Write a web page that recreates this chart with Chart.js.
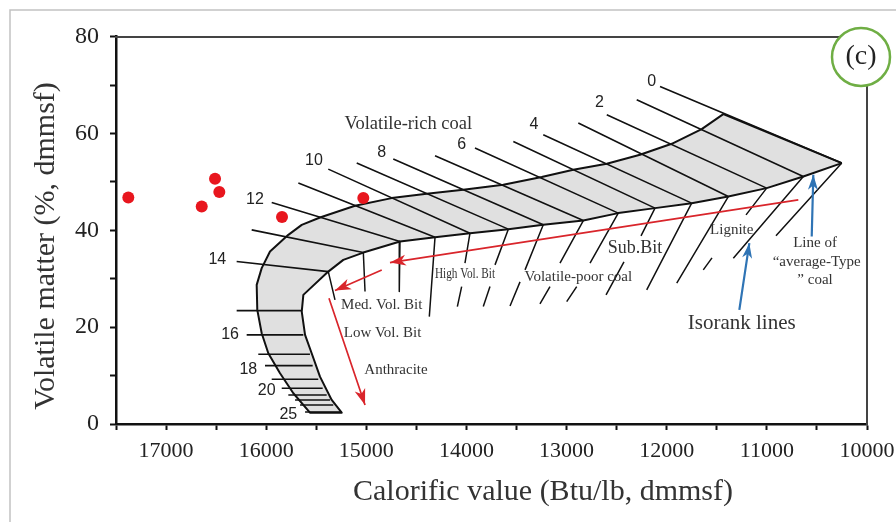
<!DOCTYPE html>
<html>
<head>
<meta charset="utf-8">
<script src="https://cdn.jsdelivr.net/npm/chart.js@4.4.1/dist/chart.umd.min.js"></script>
<style>
  html, body { margin: 0; padding: 0; background: #fff; }
  #wrap { width: 896px; height: 522px; position: relative; }
</style>
</head>
<body>
<div id="wrap"><canvas id="seyler"></canvas></div>
<script>
const SERIF = '"Liberation Serif", "Times New Roman", serif';
const SANS = '"Liberation Sans", Arial, sans-serif';

// calorific value (Btu/lb) , volatile matter (%)
const xTicks = [10000, 11000, 12000, 13000, 14000, 15000, 16000, 17000];
const yTicks = [0, 20, 40, 60, 80];

// upper edge of the coal band, from the lignite tip round to the anthracite end
const outerEdge = [
  [10252, 53.89], [11435, 64.02], [11651, 60.92], [11950, 57.88], [12267, 55.61],
  [12599, 53.75], [12933, 52.51], [13249, 51.0], [13632, 49.41], [14032, 48.37],
  [14397, 47.55], [14747, 46.66], [15113, 45.07], [15463, 42.65], [15645, 41.14],
  [15779, 39.07], [15962, 35.62], [16045, 32.19], [16095, 28.73], [16089, 23.57],
  [16045, 18.75], [15979, 14.62], [15862, 10.48], [15729, 6.35], [15563, 2.34]
];

// lower edge of the band, same direction
const innerEdge = [
  [10252, 53.89], [10636, 51.12], [11002, 48.72], [11385, 46.99], [11751, 45.62],
  [12117, 44.59], [12484, 43.56], [12833, 42.03], [13233, 41.14], [13582, 40.25],
  [13965, 39.42], [14314, 38.59], [14664, 37.69], [15030, 35.41], [15230, 33.90],
  [15380, 31.48], [15629, 26.67], [15645, 23.21], [15612, 18.40], [15546, 14.62],
  [15463, 9.78], [15346, 4.96], [15246, 2.34]
];

// isorank lines across the band: x1, y1, x2, y2
const isorankLines = [
  [12067, 69.73, 10252, 53.89], [12300, 66.98, 10636, 51.12],
  [12599, 63.88, 11002, 48.72], [12883, 62.16, 11385, 46.99],
  [13233, 59.74, 11751, 45.62], [13532, 58.36, 12117, 44.59],
  [13915, 56.99, 12484, 43.56], [14314, 55.40, 12833, 42.03],
  [14731, 54.72, 13233, 41.14], [15096, 53.89, 13582, 40.25],
  [15380, 52.65, 13965, 39.42], [15679, 49.76, 14314, 38.59],
  [15945, 45.75, 14664, 37.69], [16145, 40.10, 15030, 35.41],
  [16295, 33.55, 15380, 31.48]
];

// short isorank bars in the low volatile limb: x1, x2, y
const limbLines = [
  [16295, 15645, 23.42], [16195, 15629, 18.40], [16079, 15563, 14.41],
  [16012, 15536, 12.05], [15945, 15480, 9.24], [15845, 15436, 7.38],
  [15779, 15396, 6.0], [15712, 15363, 4.96], [15662, 15330, 3.93],
  [15612, 15246, 2.48]
];

// volatile-poor continuation lines below the band
const poorLines = [
  [15380, 31.48, 15313, 25.63], [15030, 35.41, 15013, 27.35],
  [14664, 37.69, 14671, 27.35], [14314, 38.59, 14371, 22.18],
  [13965, 39.42, 14015, 33.22], [14048, 28.38, 14091, 24.25],
  [13582, 40.25, 13715, 32.87], [13765, 28.38, 13832, 24.25],
  [13233, 41.14, 13415, 31.83], [13465, 29.35, 13565, 24.39],
  [12833, 42.03, 13066, 33.22], [13166, 28.38, 13266, 24.81],
  [12484, 43.56, 12766, 33.22], [12899, 28.38, 12999, 25.28],
  [12117, 44.59, 12257, 38.86], [12427, 33.49, 12606, 26.67],
  [11751, 45.62, 12200, 27.70], [11385, 46.99, 11900, 29.09],
  [11002, 48.72, 11208, 43.20], [11548, 34.32, 11635, 31.83],
  [10636, 51.12, 11335, 34.25], [10252, 53.89, 10909, 38.86]
];

// studied samples
const samples = [
  [17377, 46.78], [16644, 44.92], [16511, 50.65],
  [16468, 47.90], [15842, 42.75], [15030, 46.66]
];

// coalification path arrows and pointers: from -> to
const redArrows = [
  [10686, 46.31, 14764, 33.34],
  [14846, 31.83, 15313, 27.56],
  [15373, 25.98, 15013, 3.93]
];
const blueArrows = [
  [11275, 23.57, 11175, 37.35],
  [10552, 38.72, 10536, 51.47]
];

const isorankLabels = [
  ['0', 12150, 70.76], ['2', 12673, 66.30], ['4', 13325, 61.81], ['6', 14048, 57.67],
  ['8', 14846, 56.08], ['10', 15523, 54.37], ['12', 16112, 46.31], ['14', 16488, 34.05],
  ['16', 16361, 18.40], ['18', 16179, 11.31], ['20', 15995, 6.88], ['25', 15779, 1.86]
];

const notes = [
  ['Volatile-rich coal', 14581, 61.95],
  ['Sub.Bit', 12317, 36.32],
  ['Lignite', 11351, 40.10],
  ['Volatile-poor coal', 12883, 30.45],
  ['High Vol. Bit', 14015, 31.01],
  ['Med. Vol. Bit', 14846, 24.60],
  ['Low Vol. Bit', 14838, 18.75],
  ['Anthracite', 14704, 11.16],
  ['Isorank lines', 11251, 20.82],
  ['Line of', 10519, 37.42],
  ['\u201caverage-Type', 10502, 33.55],
  ['\u201d coal', 10519, 29.77]
];
// font size and horizontal squeeze for a few notes
const noteStyle = {
  'Volatile-rich coal': [18.5, 1],
  'Sub.Bit': [18, 1],
  'Isorank lines': [21, 1],
  'High Vol. Bit': [15, 0.75]
};

const pts = list => list.map(([x, y]) => ({ x, y }));
const segs = list => list.flatMap(([x1, y1, x2, y2]) => [{ x: x1, y: y1 }, { x: x2, y: y2 }, { x: x2, y: null }]);
const bars = list => list.flatMap(([x1, x2, y]) => [{ x: x1, y }, { x: x2, y }, { x: x2, y: null }]);

const band = [...outerEdge, ...innerEdge.slice().reverse()];

const lineSet = (label, data, color, width, order) => ({
  label, data, order,
  showLine: true,
  spanGaps: false,
  borderColor: color,
  borderWidth: width,
  borderJoinStyle: 'round',
  pointRadius: 0,
});

// keep the plot frame where the original has it
const noPad = (scale) => {
  scale.paddingLeft = 0;
  scale.paddingRight = 0;
  scale.paddingTop = 0;
  scale.paddingBottom = 0;
};

// draws the gray band, arrow heads, notes, titles and the panel tag
const decorations = {
  id: 'decorations',
  beforeDraw(chart) {
    const { ctx } = chart;
    ctx.save();
    ctx.fillStyle = '#fff';
    ctx.fillRect(0, 0, chart.width, chart.height);
    ctx.strokeStyle = '#c2c2c2';
    ctx.lineWidth = 1.5;
    ctx.beginPath();
    ctx.moveTo(10, chart.height);
    ctx.lineTo(10, 10);
    ctx.lineTo(chart.width, 10);
    ctx.stroke();
    ctx.restore();
  },
  beforeDatasetsDraw(chart) {
    const { ctx } = chart;
    chart.data.datasets.forEach((ds, i) => {
      if (!ds.shade) return;
      const el = chart.getDatasetMeta(i).data;
      ctx.save();
      ctx.beginPath();
      el.forEach((p, k) => (k ? ctx.lineTo(p.x, p.y) : ctx.moveTo(p.x, p.y)));
      ctx.closePath();
      ctx.fillStyle = ds.shade;
      ctx.fill();
      ctx.restore();
    });
  },
  afterDatasetsDraw(chart) {
    const { ctx, scales: { x, y } } = chart;
    chart.data.datasets.forEach((ds, i) => {
      if (!ds.head) return;
      const el = chart.getDatasetMeta(i).data;
      for (let k = 0; k + 1 < el.length; k += 3) {
        const a = el[k], b = el[k + 1];
        const ang = Math.atan2(b.y - a.y, b.x - a.x);
        ctx.save();
        ctx.translate(b.x, b.y);
        ctx.rotate(ang);
        ctx.beginPath();
        ctx.moveTo(0, 0);
        ctx.lineTo(-ds.headLen, ds.headWidth / 2);
        ctx.lineTo(-ds.headLen * 0.72, 0);
        ctx.lineTo(-ds.headLen, -ds.headWidth / 2);
        ctx.closePath();
        ctx.fillStyle = ds.head;
        ctx.fill();
        ctx.restore();
      }
    });

    ctx.save();
    ctx.textAlign = 'center';
    ctx.textBaseline = 'middle';
    ctx.fillStyle = '#222';
    ctx.font = '16px ' + SANS;
    isorankLabels.forEach(([t, vx, vy]) => {
      ctx.fillText(t, x.getPixelForValue(vx), y.getPixelForValue(vy));
    });
    ctx.fillStyle = '#333';
    notes.forEach(([t, vx, vy]) => {
      const [size, squeeze] = noteStyle[t] || [15, 1];
      ctx.save();
      ctx.translate(x.getPixelForValue(vx), y.getPixelForValue(vy));
      ctx.scale(squeeze, 1);
      ctx.font = size + 'px ' + SERIF;
      ctx.fillText(t, 0, 0);
      ctx.restore();
    });
    ctx.restore();
  },
  afterDraw(chart) {
    const { ctx } = chart;
    ctx.save();
    ctx.fillStyle = '#333';
    ctx.font = '30px ' + SERIF;
    ctx.textAlign = 'center';
    ctx.textBaseline = 'alphabetic';
    ctx.fillText('Calorific value (Btu/lb, dmmsf)', 543, 500);
    ctx.translate(54, 246);
    ctx.rotate(-Math.PI / 2);
    ctx.fillText('Volatile matter (%, dmmsf)', 0, 0);
    ctx.restore();

    // panel tag
    ctx.save();
    ctx.beginPath();
    ctx.arc(861, 57, 29, 0, Math.PI * 2);
    ctx.fillStyle = '#fff';
    ctx.fill();
    ctx.lineWidth = 2.5;
    ctx.strokeStyle = '#6fae44';
    ctx.stroke();
    ctx.fillStyle = '#222';
    ctx.font = '28px ' + SERIF;
    ctx.textAlign = 'center';
    ctx.textBaseline = 'middle';
    ctx.fillText('(c)', 861, 57);
    ctx.restore();
  }
};

const ctx = document.getElementById('seyler').getContext('2d');

new Chart(ctx, {
  type: 'scatter',
  data: {
    datasets: [
      {
        label: 'Samples',
        data: pts(samples),
        order: 0,
        showLine: false,
        pointRadius: 6,
        pointBackgroundColor: '#e8161e',
        pointBorderWidth: 0,
      },
      { ...lineSet('Coalification path', segs(redArrows), '#d9252b', 1.7, 1), head: '#d9252b', headLen: 16, headWidth: 11 },
      { ...lineSet('Pointers', segs(blueArrows), '#2f74b5', 2.2, 1), head: '#2f74b5', headLen: 15, headWidth: 10 },
      lineSet('Isorank lines', segs(isorankLines), '#111', 1.6, 3),
      lineSet('Volatile-poor lines', segs(poorLines), '#111', 1.5, 3),
      lineSet('Limb lines', bars(limbLines), '#111', 1.6, 3),
      { ...lineSet('Band', pts(band), '#111', 2, 5), shade: '#e0e0e0' },
    ],
  },
  options: {
    responsive: true,
    maintainAspectRatio: false,
    animation: false,
    events: [],
    layout: {
      padding: { top: 36.7, right: 29, bottom: 0, left: 0 },
    },
    plugins: {
      legend: { display: false },
      tooltip: { enabled: false },
    },
    scales: {
      x: {
        type: 'linear',
        position: 'bottom',
        reverse: true,
        min: 10000,
        max: 17500,
        afterFit: (scale) => {
          scale.height = 98;
          noPad(scale);
        },
        ticks: {
          stepSize: 500,
          autoSkip: false,
          maxRotation: 0,
          padding: 8,
          color: '#222',
          font: { family: SERIF, size: 22 },
          callback: (value) => (xTicks.includes(value) ? String(value) : ''),
        },
        grid: {
          drawOnChartArea: false,
          drawTicks: true,
          tickLength: 6,
          tickWidth: 2,
          tickColor: '#111',
        },
        border: { display: true, color: '#111', width: 2.5 },
      },
      y: {
        type: 'linear',
        position: 'left',
        min: 0,
        max: 80,
        afterFit: (scale) => {
          scale.width = 116;
          noPad(scale);
        },
        ticks: {
          stepSize: 10,
          autoSkip: false,
          padding: 11,
          color: '#222',
          font: { family: SERIF, size: 24 },
          callback: (value) => (yTicks.includes(value) ? String(value) : ''),
        },
        grid: {
          drawOnChartArea: false,
          drawTicks: true,
          tickLength: 6,
          tickWidth: 2,
          tickColor: '#111',
        },
        border: { display: true, color: '#111', width: 2.5 },
      },
      x2: {
        type: 'linear',
        position: 'top',
        display: true,
        min: 10000,
        max: 17500,
        afterFit: (scale) => {
          scale.height = 0;
          noPad(scale);
        },
        ticks: { display: false },
        grid: { display: false, drawTicks: false },
        border: { display: true, color: '#444', width: 2 },
      },
      y2: {
        type: 'linear',
        position: 'right',
        display: true,
        min: 0,
        max: 80,
        afterFit: (scale) => {
          scale.width = 0;
          noPad(scale);
        },
        ticks: { display: false },
        grid: { display: false, drawTicks: false },
        border: { display: true, color: '#444', width: 2 },
      },
    },
  },
  plugins: [decorations],
});
</script>
</body>
</html>
